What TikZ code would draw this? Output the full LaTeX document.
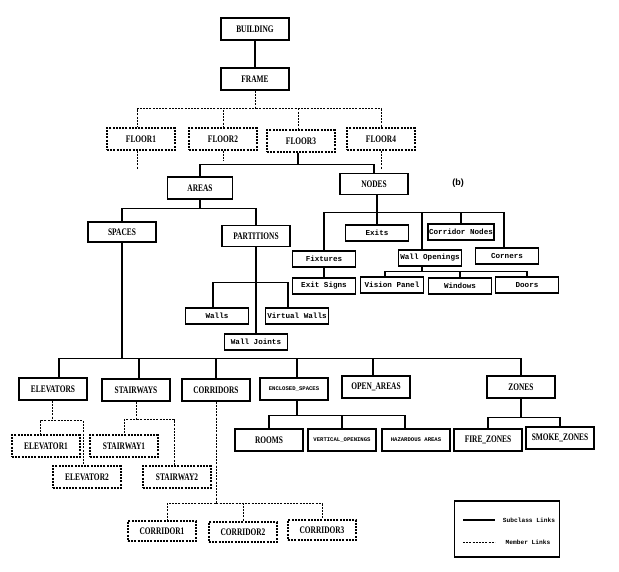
\documentclass[tikz,border=0pt]{standalone}
\usepackage{fontspec}
\setmainfont{Liberation Serif}
\setmonofont{Liberation Mono}
\setsansfont{Liberation Sans}
\newfontfamily\narrowserif{Liberation Serif}[FakeStretch=0.74]
\tikzset{
    classbox/.style={rectangle, draw, line width=1.3pt, minimum width=68pt,
    	minimum height=22pt, inner sep=1pt, font=\narrowserif\fontsize{10}{11}\selectfont\bfseries},
    memberbox/.style={classbox, line width=1.1pt, dash pattern=on 2pt off 1.2pt},
    smallbox/.style={classbox, font=\fontsize{5.6}{6}\selectfont\ttfamily\bfseries},
    partbox/.style={rectangle, draw, line width=1.3pt, minimum width=63pt,
    	minimum height=16pt, inner sep=1pt, font=\fontsize{7.6}{8}\selectfont\ttfamily\bfseries}
}
\tikzset{
    subclass/.style={line width=1.1pt},
    member/.style={line width=0.9pt, dash pattern=on 2pt off 1.2pt},
    legendtext/.style={font=\fontsize{6.2}{7}\selectfont\ttfamily\bfseries, inner sep=0pt}
}

\begin{document}
\begin{tikzpicture}[x=1pt, y=-1pt]
	\useasboundingbox (0,0) rectangle (619,572);
	\node [classbox] (building) at (255,29) {BUILDING};
	\node [classbox] (frame) at (255,79) {FRAME};
	\node [memberbox] (floor1) at (141,139) {FLOOR1};
	\node [memberbox] (floor2) at (223,139) {FLOOR2};
	\node [memberbox] (floor3) at (301,141) {FLOOR3};
	\node [memberbox] (floor4) at (381,139) {FLOOR4};
	\node [font=\sffamily\bfseries\fontsize{9}{10}\selectfont] (tag) at (458,183) {(b)};
	\node [classbox, minimum width=65pt] (areas) at (200,188) {AREAS};
	\node [classbox, minimum height=21pt] (nodes) at (374,184) {NODES};
	\node [classbox, minimum height=20pt] (spaces) at (122,232) {SPACES};
	\node [classbox, minimum height=21pt] (partitions) at (256,236) {PARTITIONS};
	\node [partbox] (exits) at (377,233) {Exits};
	\node [partbox] (corridornodes) at (461,232) {Corridor Nodes};
	\node [partbox] (fixtures) at (324,259) {Fixtures};
	\node [partbox] (wallopenings) at (430,258) {Wall Openings};
	\node [partbox] (corners) at (507,256) {Corners};
	\node [partbox] (exitsigns) at (324,286) {Exit Signs};
	\node [partbox] (visionpanel) at (392,285) {Vision Panel};
	\node [partbox] (windows) at (460,286) {Windows};
	\node [partbox] (doors) at (527,285) {Doors};
	\node [partbox] (walls) at (217,316) {Walls};
	\node [partbox] (virtualwalls) at (297,316) {Virtual Walls};
	\node [partbox] (walljoints) at (256,342) {Wall Joints};
	\node [classbox] (elevators) at (53,389) {ELEVATORS};
	\node [classbox] (stairways) at (136,390) {STAIRWAYS};
	\node [classbox] (corridors) at (216,390) {CORRIDORS};
	\node [smallbox] (enclosed) at (294,389) {ENCLOSED\_SPACES};
	\node [classbox] (openareas) at (376,387) {OPEN\_AREAS};
	\node [classbox] (zones) at (521,387) {ZONES};
	\node [classbox] (rooms) at (269,440) {ROOMS};
	\node [smallbox] (vertical) at (342,440) {VERTICAL\_OPENINGS};
	\node [smallbox] (hazardous) at (416,440) {HAZARDOUS AREAS};
	\node [classbox] (firezones) at (488,440) {FIRE\_ZONES};
	\node [classbox] (smokezones) at (560,438) {SMOKE\_ZONES};
	\node [memberbox] (elevator1) at (46,446) {ELEVATOR1};
	\node [memberbox] (elevator2) at (87,477) {ELEVATOR2};
	\node [memberbox] (stairway1) at (124,446) {STAIRWAY1};
	\node [memberbox] (stairway2) at (177,477) {STAIRWAY2};
	\node [memberbox, minimum height=20pt] (corridor1) at (162,531) {CORRIDOR1};
	\node [memberbox, minimum height=20pt] (corridor2) at (243,532) {CORRIDOR2};
	\node [memberbox, minimum height=20pt] (corridor3) at (322,530) {CORRIDOR3};
	\node [rectangle, draw, line width=1.3pt, minimum width=105pt, minimum height=56pt] (legend) at (507,529) {};
	\coordinate (sub1) at (463,520); \coordinate (sub2) at (495,520);
	\coordinate (mem1) at (463,542); \coordinate (mem2) at (495,542);
	\node [legendtext] (subtext) at (529,520) {Subclass Links};
	\node [legendtext] (memtext) at (528,542) {Member Links};
	\draw [subclass] (sub1) -- (sub2); \draw [member] (mem1) -- (mem2);
	\draw [subclass] (building) -- (frame);
	\draw [member] (frame.south) -- ++(0,18) -| ([xshift=-4]floor1.north);
	\draw [member] (frame.south) -- ++(0,18) -| (floor2.north);
	\draw [member] (frame.south) -- ++(0,18) -| ([xshift=-3]floor3.north);
	\draw [member] (frame.south) -- ++(0,18) -| (floor4.north);
	\draw [member] ([xshift=-4]floor1.south) -- ++(0,18); \draw [member] (floor2.south) -- ++(0,10);
	\draw [member] (floor4.south) -- ++(0,18);
	\draw [subclass] ([xshift=-3]floor3.south) -- ++(0,12) -| (areas.north);
	\draw [subclass] ([xshift=-3]floor3.south) -- ++(0,12) -| (nodes.north);
	\draw [subclass] (areas.south) -- ++(0,9) -| (spaces.north);
	\draw [subclass] (areas.south) -- ++(0,9) -| (partitions.north);
	\draw [subclass] (exits.north |- nodes.south) -- (exits.north);
	\draw [subclass] (exits.north |- nodes.south) -- ++(0,17) -| (fixtures.north);
	\draw [subclass] (exits.north |- nodes.south) -- ++(0,17) -| ([xshift=-8]wallopenings.north);
	\draw [subclass] (exits.north |- nodes.south) -- ++(0,17) -| (corridornodes.north);
	\draw [subclass] (exits.north |- nodes.south) -- ++(0,17) -| ([xshift=-3]corners.north);
	\draw [subclass] (fixtures) -- (exitsigns);
	\draw [subclass] ([xshift=-8]wallopenings.south) -- ++(0,5) -| ([xshift=-7]visionpanel.north);
	\draw [subclass] ([xshift=-8]wallopenings.south) -- ++(0,5) -| (windows.north);
	\draw [subclass] ([xshift=-8]wallopenings.south) -- ++(0,5) -| (doors.north);
	\draw [subclass] (partitions.south) -- ++(0,35) -| ([xshift=-4]walls.north);
	\draw [subclass] (partitions.south) -- ++(0,35) -| ([xshift=-9]virtualwalls.north);
	\draw [subclass] (partitions) -- (walljoints);
	\draw [subclass] (spaces.south) -- ++(0,116) -| ([xshift=6]elevators.north);
	\draw [subclass] (spaces.south) -- ++(0,116) -| ([xshift=3]stairways.north);
	\draw [subclass] (spaces.south) -- ++(0,116) -| (corridors.north);
	\draw [subclass] (spaces.south) -- ++(0,116) -| ([xshift=3]enclosed.north);
	\draw [subclass] (spaces.south) -- ++(0,116) -| ([xshift=-3]openareas.north);
	\draw [subclass] (spaces.south) -- ++(0,116) -| (zones.north);
	\draw [member] ([xshift=-1]elevators.south) -- ++(0,20) -| ([xshift=-6]elevator1.north);
	\draw [member] ([xshift=-1]elevators.south) -- ++(0,20) -| ([xshift=-4]elevator2.north);
	\draw [member] (stairways.south) -- ++(0,18) -| (stairway1.north);
	\draw [member] (stairways.south) -- ++(0,18) -| ([xshift=-3]stairway2.north);
	\draw [member] (corridors.south) -- ++(0,102) -| ([xshift=5]corridor1.north);
	\draw [member] (corridors.south) -- ++(0,102) -| (corridor2.north);
	\draw [member] (corridors.south) -- ++(0,102) -| (corridor3.north);
	\draw [subclass] ([xshift=3]enclosed.south) -- ++(0,15) -| (rooms.north);
	\draw [subclass] ([xshift=3]enclosed.south) -- ++(0,15) -| (vertical.north);
	\draw [subclass] ([xshift=3]enclosed.south) -- ++(0,15) -| ([xshift=-11]hazardous.north);
	\draw [subclass] (zones.south) -- ++(0,19) -| (firezones.north);
	\draw [subclass] (zones.south) -- ++(0,19) -| (smokezones.north);
\end{tikzpicture}
\end{document}
